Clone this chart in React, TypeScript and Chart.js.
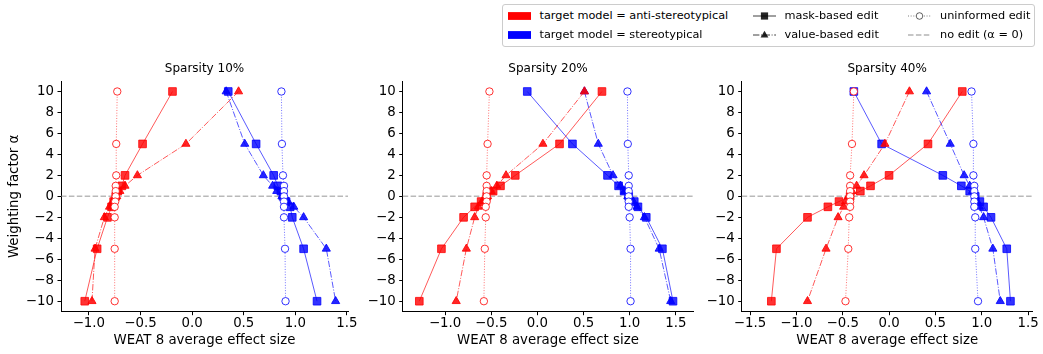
import React, { useEffect, useRef } from 'react';
import { Chart, registerables } from 'chart.js';

Chart.register(...registerables);

// ---------- data ----------
const alphas = [10, 5, 2, 1, 0.5, 0, -0.5, -1, -2, -5, -10];
const yTicks = [-10, -8, -6, -4, -2, 0, 2, 4, 6, 8, 10];
const xTicksA = [-1.0, -0.5, 0.0, 0.5, 1.0, 1.5];
const xTicksB = [-1.5, -1.0, -0.5, 0.0, 0.5, 1.0, 1.5];
const panelTitles = ['Sparsity 10%', 'Sparsity 20%', 'Sparsity 40%'];

// Sparsity 10%
const s10AntiMask = [-0.19, -0.48, -0.65, -0.68, -0.72, -0.74, -0.76, -0.78, -0.82, -0.92, -1.04];
const s10AntiValue = [0.45, -0.06, -0.53, -0.65, -0.7, -0.73, -0.77, -0.8, -0.85, -0.94, -0.97];
const s10AntiUninf = [-0.725, -0.735, -0.735, -0.74, -0.74, -0.74, -0.745, -0.75, -0.75, -0.75, -0.75];
const s10StereoMask = [0.35, 0.62, 0.79, 0.83, 0.86, 0.88, 0.91, 0.95, 0.97, 1.08, 1.21];
const s10StereoValue = [0.33, 0.51, 0.69, 0.78, 0.82, 0.87, 0.93, 0.985, 1.08, 1.3, 1.39];
const s10StereoUninf = [0.865, 0.87, 0.88, 0.89, 0.89, 0.89, 0.89, 0.89, 0.89, 0.9, 0.905];

// Sparsity 20%
const s20AntiMask = [0.7, 0.24, -0.24, -0.4, -0.48, -0.55, -0.61, -0.68, -0.8, -1.04, -1.28];
const s20AntiValue = [0.51, 0.06, -0.34, -0.44, -0.5, -0.54, -0.6, -0.64, -0.68, -0.77, -0.88];
const s20AntiUninf = [-0.52, -0.54, -0.55, -0.55, -0.55, -0.55, -0.55, -0.56, -0.56, -0.57, -0.58];
const s20StereoMask = [-0.11, 0.38, 0.76, 0.88, 0.94, 0.99, 1.05, 1.09, 1.18, 1.355, 1.47];
const s20StereoValue = [0.51, 0.66, 0.82, 0.9, 0.945, 0.98, 1.04, 1.08, 1.16, 1.32, 1.445];
const s20StereoUninf = [0.976, 0.98, 0.99, 0.99, 0.99, 0.99, 0.99, 0.99, 1.0, 1.01, 1.01];

// Sparsity 40%
const s40AntiMask = [0.79, 0.42, 0.0, -0.2, -0.31, -0.42, -0.54, -0.66, -0.88, -1.215, -1.27];
const s40AntiValue = [0.22, -0.045, -0.27, -0.35, -0.4, -0.44, -0.47, -0.49, -0.55, -0.68, -0.88];
const s40AntiUninf = [-0.38, -0.4, -0.42, -0.42, -0.42, -0.42, -0.42, -0.42, -0.43, -0.44, -0.47];
const s40StereoMask = [-0.38, -0.08, 0.58, 0.78, 0.87, 0.93, 0.98, 1.02, 1.1, 1.27, 1.31];
const s40StereoValue = [0.405, 0.66, 0.81, 0.87, 0.9, 0.93, 0.95, 0.975, 1.02, 1.12, 1.2];
const s40StereoUninf = [0.89, 0.91, 0.91, 0.92, 0.92, 0.92, 0.92, 0.92, 0.93, 0.93, 0.96];

const xLimits = [
  [-1.27, 1.51],
  [-1.46, 1.69],
  [-1.59, 1.55],
];

const legendLabels = [
  'target model = anti-stereotypical',
  'target model = stereotypical',
  'mask-based edit',
  'value-based edit',
  'uninformed edit',
  'no edit (α = 0)',
];

// ---------- styling ----------
const FONT = "'DejaVu Sans', sans-serif";
const RED = [255, 0, 0];
const BLUE = [0, 0, 255];
const rgba = (c: number[], a: number) => `rgba(${c[0]},${c[1]},${c[2]},${a})`;
const fmt = (v: number, d: number) => (v < 0 ? '\u2212' : '') + Math.abs(v).toFixed(d);

type Kind = 'mask' | 'value' | 'uninf';

function makeDataset(vals: number[], color: number[], kind: Kind) {
  const base: any = {
    data: vals.map((v, i) => ({ x: v, y: alphas[i] })),
    showLine: true,
    fill: false,
    tension: 0,
    borderColor: rgba(color, 0.65),
    borderWidth: 1,
    pointBorderWidth: 1,
  };
  if (kind === 'mask') {
    return {
      ...base,
      borderDash: [],
      pointStyle: 'rect',
      pointRadius: 5.4,
      pointBackgroundColor: rgba(color, 0.8),
      pointBorderColor: rgba(color, 0.8),
    };
  }
  if (kind === 'value') {
    return {
      ...base,
      borderDash: [6.4, 1.6, 1, 1.6],
      pointStyle: 'triangle',
      pointRadius: 4.7,
      pointBackgroundColor: rgba(color, 0.85),
      pointBorderColor: rgba(color, 0.85),
    };
  }
  return {
    ...base,
    borderColor: rgba(color, 0.55),
    borderDash: [1, 1.65],
    pointStyle: 'circle',
    pointRadius: 3.7,
    pointBackgroundColor: '#ffffff',
    pointBorderColor: rgba(color, 0.8),
  };
}

const zeroLine = {
  id: 'zeroLine',
  beforeDatasetsDraw(chart: any) {
    const { ctx, chartArea, scales } = chart;
    const y = scales.y.getPixelForValue(0);
    ctx.save();
    ctx.strokeStyle = 'rgba(128,128,128,0.55)';
    ctx.lineWidth = 1.5;
    ctx.setLineDash([5.5, 2.4]);
    ctx.beginPath();
    ctx.moveTo(chartArea.left, y);
    ctx.lineTo(chartArea.right, y);
    ctx.stroke();
    ctx.restore();
  },
};

interface PanelProps {
  title: string;
  series: number[][];
  xMin: number;
  xMax: number;
  xTicks: number[];
  showYTitle: boolean;
  left: number;
  width: number;
  yAxisWidth: number;
  padRight: number;
}

const TOP = 55;
const HEIGHT = 299;

function Panel(p: PanelProps) {
  const ref = useRef<HTMLCanvasElement>(null);
  useEffect(() => {
    if (!ref.current) return;
    const [am, av, au, sm, sv, su] = p.series;
    const chart = new Chart(ref.current, {
      type: 'line',
      data: {
        datasets: [
          makeDataset(au, RED, 'uninf'),
          makeDataset(su, BLUE, 'uninf'),
          makeDataset(av, RED, 'value'),
          makeDataset(sv, BLUE, 'value'),
          makeDataset(am, RED, 'mask'),
          makeDataset(sm, BLUE, 'mask'),
        ],
      },
      plugins: [zeroLine],
      options: {
        responsive: false,
        animation: false,
        events: [],
        layout: { padding: { left: 0, right: p.padRight, top: 0, bottom: 0 } },
        plugins: {
          legend: { display: false },
          tooltip: { enabled: false },
          title: {
            display: true,
            fullSize: false,
            text: p.title,
            color: '#000',
            font: { family: FONT, size: 12, weight: 'normal' },
            padding: { top: 7, bottom: 4.6 },
          },
        },
        scales: {
          x: {
            type: 'linear',
            min: p.xMin,
            max: p.xMax,
            afterBuildTicks: (axis: any) => {
              axis.ticks = p.xTicks.map((v) => ({ value: v }));
            },
            afterFit: (axis: any) => {
              axis.height = 42.3;
            },
            ticks: {
              color: '#000',
              font: { family: FONT, size: 13.33 },
              padding: 0,
              maxRotation: 0,
              autoSkip: false,
              callback: (v: any) => fmt(Number(v), 1),
            },
            grid: { display: true, drawOnChartArea: false, drawTicks: true, tickLength: 3.5, color: '#000' },
            border: { display: true, color: '#000', width: 1 },
            title: {
              display: true,
              text: 'WEAT 8 average effect size',
              color: '#000',
              font: { family: FONT, size: 13.33 },
              padding: { top: 0, bottom: 5 },
            },
          },
          y: {
            type: 'linear',
            min: -11,
            max: 11,
            afterBuildTicks: (axis: any) => {
              axis.ticks = yTicks.map((v) => ({ value: v }));
            },
            afterFit: (axis: any) => {
              axis.width = p.yAxisWidth;
            },
            ticks: {
              color: '#000',
              font: { family: FONT, size: 13.33 },
              padding: 3.5,
              autoSkip: false,
              callback: (v: any) => fmt(Number(v), 0),
            },
            grid: { display: true, drawOnChartArea: false, drawTicks: true, tickLength: 3.5, color: '#000' },
            border: { display: true, color: '#000', width: 1 },
            title: {
              display: p.showYTitle,
              text: 'Weighting factor α',
              color: '#000',
              font: { family: FONT, size: 13.33 },
              padding: { top: 7, bottom: 0 },
            },
          },
        },
      } as any,
    });
    return () => chart.destroy();
  }, []);
  return (
    <canvas
      ref={ref}
      width={p.width}
      height={HEIGHT}
      style={{ position: 'absolute', left: p.left, top: TOP, width: p.width, height: HEIGHT, display: 'block' }}
    />
  );
}

// ---------- legend ----------
function Handle({ kind }: { kind: string }) {
  const w = 23;
  const h = 12;
  const cy = 6;
  if (kind === 'red' || kind === 'blue') {
    return (
      <svg width={w} height={h} style={{ display: 'block' }}>
        <rect x={0} y={cy - 3.9} width={w} height={7.8} fill={kind === 'red' ? '#ff0000' : '#0000ff'} />
      </svg>
    );
  }
  if (kind === 'mask') {
    return (
      <svg width={w} height={h} style={{ display: 'block' }}>
        <line x1={0} y1={cy} x2={w} y2={cy} stroke="rgba(0,0,0,0.75)" strokeWidth={1} />
        <rect x={w / 2 - 3.6} y={cy - 3.6} width={7.2} height={7.2} fill="rgba(0,0,0,0.85)" />
      </svg>
    );
  }
  if (kind === 'value') {
    return (
      <svg width={w} height={h} style={{ display: 'block' }}>
        <line x1={0} y1={cy} x2={w} y2={cy} stroke="rgba(0,0,0,0.75)" strokeWidth={1} strokeDasharray="6.4 1.6 1 1.6" />
        <polygon points={`${w / 2},${cy - 4.2} ${w / 2 - 3.9},${cy + 2.6} ${w / 2 + 3.9},${cy + 2.6}`} fill="rgba(0,0,0,0.85)" />
      </svg>
    );
  }
  if (kind === 'uninf') {
    return (
      <svg width={w} height={h} style={{ display: 'block' }}>
        <line x1={0} y1={cy} x2={w} y2={cy} stroke="rgba(0,0,0,0.5)" strokeWidth={1} strokeDasharray="1 1.65" />
        <circle cx={w / 2} cy={cy} r={3.3} fill="#fff" stroke="rgba(0,0,0,0.6)" strokeWidth={1} />
      </svg>
    );
  }
  return (
    <svg width={w} height={h} style={{ display: 'block' }}>
      <line x1={0} y1={cy} x2={w} y2={cy} stroke="rgba(128,128,128,0.6)" strokeWidth={1.5} strokeDasharray="5.5 2.4" />
    </svg>
  );
}

function Legend() {
  const kinds = ['red', 'blue', 'mask', 'value', 'uninf', 'noedit'];
  const colX = [507.5, 752.5, 908];
  const rowY = [16, 34.8];
  return (
    <div>
      <div
        style={{
          position: 'absolute',
          left: 502,
          top: 4,
          width: 533,
          height: 43,
          border: '1px solid #cccccc',
          borderRadius: 3,
          background: '#fff',
          boxSizing: 'border-box',
        }}
      />
      {legendLabels.map((label, i) => {
        const col = Math.floor(i / 2);
        const row = i % 2;
        return (
          <div
            key={label}
            style={{
              position: 'absolute',
              left: colX[col],
              top: rowY[row] - 7,
              height: 14,
              display: 'flex',
              alignItems: 'center',
              whiteSpace: 'nowrap',
              fontFamily: FONT,
              fontSize: 11.3,
              color: '#000',
            }}
          >
            <Handle kind={kinds[i]} />
            <span style={{ marginLeft: 9, lineHeight: '14px' }}>{label}</span>
          </div>
        );
      })}
    </div>
  );
}

export default function App() {
  const series10 = [s10AntiMask, s10AntiValue, s10AntiUninf, s10StereoMask, s10StereoValue, s10StereoUninf];
  const series20 = [s20AntiMask, s20AntiValue, s20AntiUninf, s20StereoMask, s20StereoValue, s20StereoUninf];
  const series40 = [s40AntiMask, s40AntiValue, s40AntiUninf, s40StereoMask, s40StereoValue, s40StereoUninf];
  return (
    <div style={{ position: 'fixed', left: 0, top: 0, width: 1043, height: 354, background: '#fff', overflow: 'hidden' }}>
      <Panel title={panelTitles[0]} series={series10} xMin={xLimits[0][0]} xMax={xLimits[0][1]} xTicks={xTicksA}
        showYTitle={true} left={0} width={365} yAxisWidth={61} padRight={17} />
      <Panel title={panelTitles[1]} series={series20} xMin={xLimits[1][0]} xMax={xLimits[1][1]} xTicks={xTicksA}
        showYTitle={false} left={355} width={355} yAxisWidth={47.7} padRight={16.7} />
      <Panel title={panelTitles[2]} series={series40} xMin={xLimits[2][0]} xMax={xLimits[2][1]} xTicks={xTicksB}
        showYTitle={false} left={700} width={343} yAxisWidth={41.7} padRight={10.3} />
      <Legend />
    </div>
  );
}
